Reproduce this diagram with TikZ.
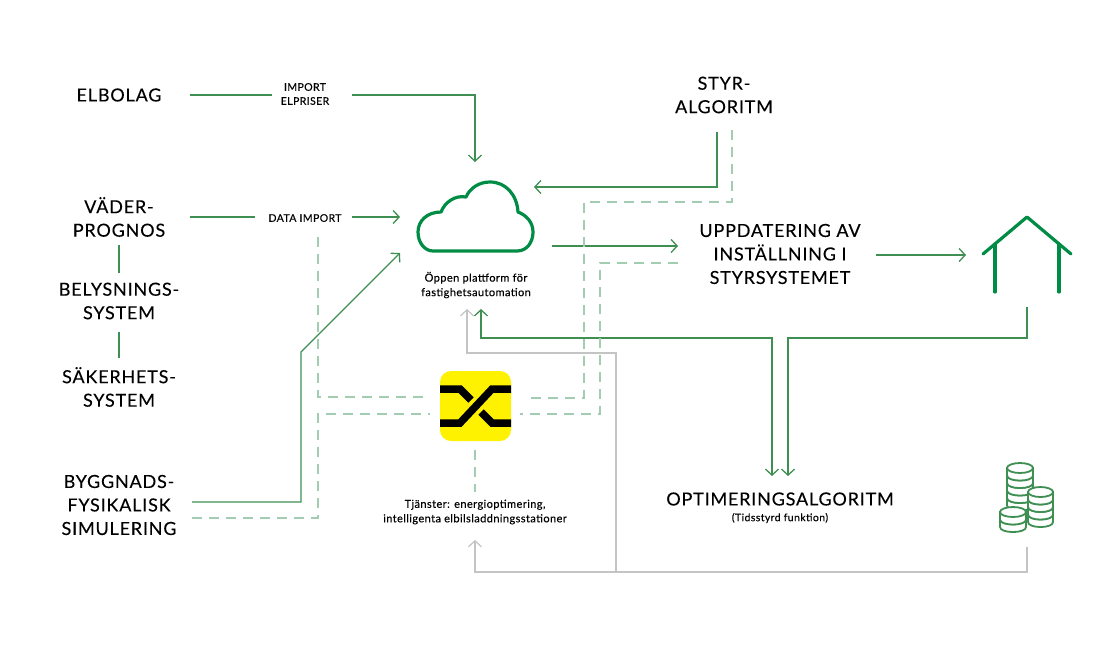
\documentclass[tikz,border=0pt]{standalone}
\usepackage{fontspec}
\setmainfont{Lato}
\newfontfamily\bigfont[LetterSpace=4.5,FakeBold=0.12]{Lato}
\newfontfamily\smallfont[LetterSpace=3.8,FakeBold=0.25]{Lato}
\usetikzlibrary{arrows.meta}
\definecolor{linegreen}{HTML}{3F8F52}
\definecolor{iconGreen}{HTML}{008C45}
\definecolor{dashgreen}{HTML}{A3CDB0}
\definecolor{greyline}{HTML}{C4C4C4}
\tikzset{
  big/.style={font=\bigfont\fontsize{18}{23.5}\selectfont,align=center,text=black,inner sep=0pt},
  small/.style={font=\smallfont\fontsize{11}{14.5}\selectfont,align=center,text=black,inner sep=0pt},
  tiny/.style={font=\smallfont\fontsize{10.5}{14}\selectfont,align=center,text=black,inner sep=0pt},
  tip/.style={-{Straight Barb[length=6pt,width=13pt]}},
  conn/.style={draw=linegreen,line width=1.3pt},
  dashc/.style={draw=dashgreen,line width=1.1pt,dash pattern=on 10pt off 7pt},
  greyc/.style={draw=greyline,line width=1.2pt},
  icon/.style={draw=iconGreen,line width=3.2pt,line cap=round,line join=round},
  coin/.style={draw=linegreen,line width=1.8pt,fill=white}
}
\newcommand{\coinstack}[4]{% cx, top cy, rx, layers
  \foreach \k in {#4,...,0}{
    \pgfmathsetmacro{\yy}{#2+\k*7.5}
    \path[coin] (#1-#3,\yy) -- (#1-#3,\yy+7.5) .. controls (#1-#3,\yy+14.2) and (#1+#3,\yy+14.2) .. (#1+#3,\yy+7.5) -- (#1+#3,\yy) -- cycle;
    \path[coin] (#1,\yy) ellipse[x radius=#3,y radius=5];
  }
}
\begin{document}
\begin{tikzpicture}[x=1pt,y=-1pt]
\useasboundingbox (0,0) rectangle (1118,646);
% text nodes
\node[big] (elbolag) at (119,95) {ELBOLAG};
\node[big] (vader) at (119,217) {VÄDER-\\PROGNOS};
\node[big] (belys) at (119,301) {BELYSNINGS-\\SYSTEM};
\node[big] (saker) at (119,387) {SÄKERHETS-\\SYSTEM};
\node[big] (bygg) at (119,505) {BYGGNADS-\\FYSIKALISK\\SIMULERING};
\node[big] (styr) at (724,95) {STYR-\\ALGORITM};
\node[big] (uppd) at (780,254) {UPPDATERING AV\\INSTÄLLNING I\\STYRSYSTEMET};
\node[big] (opt) at (780,499) {OPTIMERINGSALGORITM};
\node[tiny] (tids) at (780,518) {(Tidsstyrd funktion)};
\node[tiny] (imp) at (305,94) {IMPORT\\ELPRISER};
\node[tiny] (dimp) at (305,218) {DATA IMPORT};
\node[small] (platt) at (476,285) {Öppen plattform för\\fastighetsautomation};
\node[small] (tjan) at (475,512) {Tjänster: energioptimering,\\intelligenta elbilsladdningsstationer};

% cloud
\coordinate (cloud) at (475,216);
\draw[icon] (433,251) -- (517,251)
  .. controls (527,251) and (533,242) .. (533,232)
  .. controls (533,222) and (526,215) .. (518,212)
  .. controls (517,195) and (506,182) .. (490,182)
  .. controls (479,182) and (470,188) .. (466,197)
  .. controls (455,195) and (445,202) .. (441,212)
  .. controls (427,212) and (418,221) .. (418,232)
  .. controls (418,243) and (425,251) .. (433,251) -- cycle;

% logo
\node[draw=none,fill=yellow,rounded corners=11pt,minimum width=71pt,minimum height=70pt,inner sep=0pt] (logo) at (475.5,406) {};
\begin{scope}
\clip (440,371) rectangle (511,441);
\draw[black,line width=7.5pt,line join=miter] (511,389) -- (492,389) -- (460,423) -- (440,423);
\draw[black,line width=7.5pt,line join=miter] (440,389) -- (460,389) -- (471,400);
\draw[black,line width=7.5pt,line join=miter] (511,423) -- (492,423) -- (481,412);
\end{scope}

% house
\coordinate (houseL) at (995,292);
\coordinate (houseR) at (1059,292);
\draw[icon] (983,254) -- (1027,217) -- (1071,254);
\draw[icon] (995,244) -- (houseL);
\draw[icon] (1059,244) -- (houseR);
\coordinate (houseB) at (1027,307);

% coins
\coinstack{1020}{468}{13}{4}
\coinstack{1040.5}{492}{12.5}{3}
\coinstack{1013}{512}{13}{1}
\coordinate (coinsB) at (1027,547);

% free-end coordinates
\coordinate (eA) at (272,95);
\coordinate (eB) at (352,95);
\coordinate (eC) at (475,162);
\coordinate (s1) at (717,132);
\coordinate (s2) at (534,187);
\coordinate (c1) at (552,246);
\coordinate (c2) at (678,246);
\coordinate (v1) at (190,217);
\coordinate (v2) at (255,217);
\coordinate (v3) at (352,217);
\coordinate (v4) at (400,217);
\coordinate (b1) at (192,502);
\coordinate (b2) at (400,253);
\coordinate (u1) at (876,255);
\coordinate (u2) at (966,255);
\coordinate (o1) at (772,476);
\coordinate (o2) at (788,476);
\coordinate (p1) at (481,309);
\coordinate (g1) at (467,309);
\coordinate (t1) at (475,540);

% green connectors
\draw[conn] (190,95) -- (eA);
\draw[conn,tip] (eB) -- (475,95) -- (eC);
\draw[conn,tip] (s1) -- (717,187) -- (s2);
\draw[conn,tip] (c1) -- (c2);
\draw[conn] (v1) -- (v2);
\draw[conn,tip] (v3) -- (v4);
\draw[conn,tip] (b1) -- (301,502) -- (301,352) -- (b2);
\draw[conn] (119,245) -- (119,273);
\draw[conn] (119,332) -- (119,358);
\draw[conn,tip] (u1) -- (u2);
\draw[conn,tip] (houseB) -- (1027,338) -- (788,338) -- (o2);
\draw[conn,{Straight Barb[length=6pt,width=13pt]}-{Straight Barb[length=6pt,width=13pt]}] (p1) -- (481,338) -- (772,338) -- (o1);

% dashed connectors
\draw[dashc] (732,130) -- (732,202) -- (584,202) -- (584,398) -- (525,398);
\draw[dashc] (678,263) -- (600,263) -- (600,414) -- (520,414);
\draw[dashc] (318,237) -- (318,397) -- (430,397);
\draw[dashc] (192,518) -- (318,518) -- (318,414) -- (430,414);
\draw[dashc] (475,450) -- (475,492);

% grey connectors
\draw[greyc,tip] (coinsB) -- (1027,572) -- (475,572) -- (t1);
\draw[greyc,tip] (616,572) -- (616,353) -- (467,353) -- (g1);
\end{tikzpicture}
\end{document}
